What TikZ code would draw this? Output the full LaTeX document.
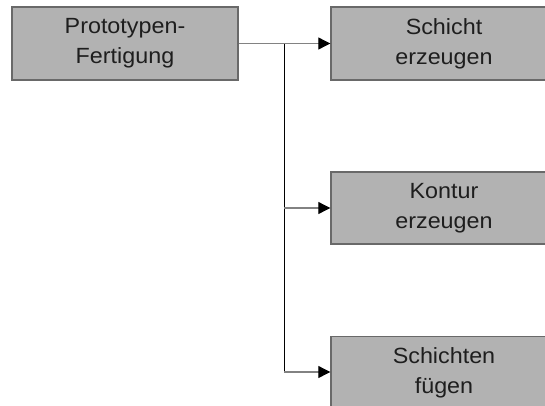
\documentclass[tikz,border=0pt]{standalone}
\usepackage{fontspec}
\setmainfont{Liberation Sans}[FakeStretch=1.06]
\usetikzlibrary{arrows.meta}
\definecolor{boxfill}{RGB}{178,178,178}
\definecolor{boxline}{RGB}{105,105,105}
\definecolor{txt}{RGB}{30,30,30}
\definecolor{hline}{RGB}{130,130,130}
\tikzset{
  box/.style={draw=boxline, line width=1.4pt, fill=boxfill, minimum width=226pt, inner sep=0pt,
    text=txt, align=center, font=\fontsize{22}{30}\selectfont},
  conn/.style={line width=1.1pt, draw=hline},
  vconn/.style={line width=0.9pt, draw=black},
  arr/.style={conn, -{Triangle[length=12pt,width=12pt,fill=black,color=black]}}
}
\begin{document}
\begin{tikzpicture}[x=1pt,y=-1pt]
\useasboundingbox (0,0) rectangle (545,405);
\clip (0,0) rectangle (545,405);
\fill[white] (0,0) rectangle (545,405);
\node[box, minimum height=73pt] (pf) at (125,43.5) {Prototypen-\\Fertigung};
\node[box, minimum height=73pt] (se) at (444,43.5) {Schicht\\erzeugen};
\node[box, minimum height=72pt] (ke) at (444,208) {Kontur\\erzeugen};
\node[box, minimum height=72pt, anchor=north] (sf) at (444,336) {Schichten\\fügen};
\coordinate (j1) at (284,43.5);
\coordinate (j2) at (284,208);
\coordinate (j3) at (284,372);
\draw[arr] (pf.east) -- (se.west);
\draw[vconn] (j1) -- (j3);
\draw[arr] (j2) -- (ke.west);
\draw[arr] (j3) -- (sf.west |- j3);
\end{tikzpicture}
\end{document}
